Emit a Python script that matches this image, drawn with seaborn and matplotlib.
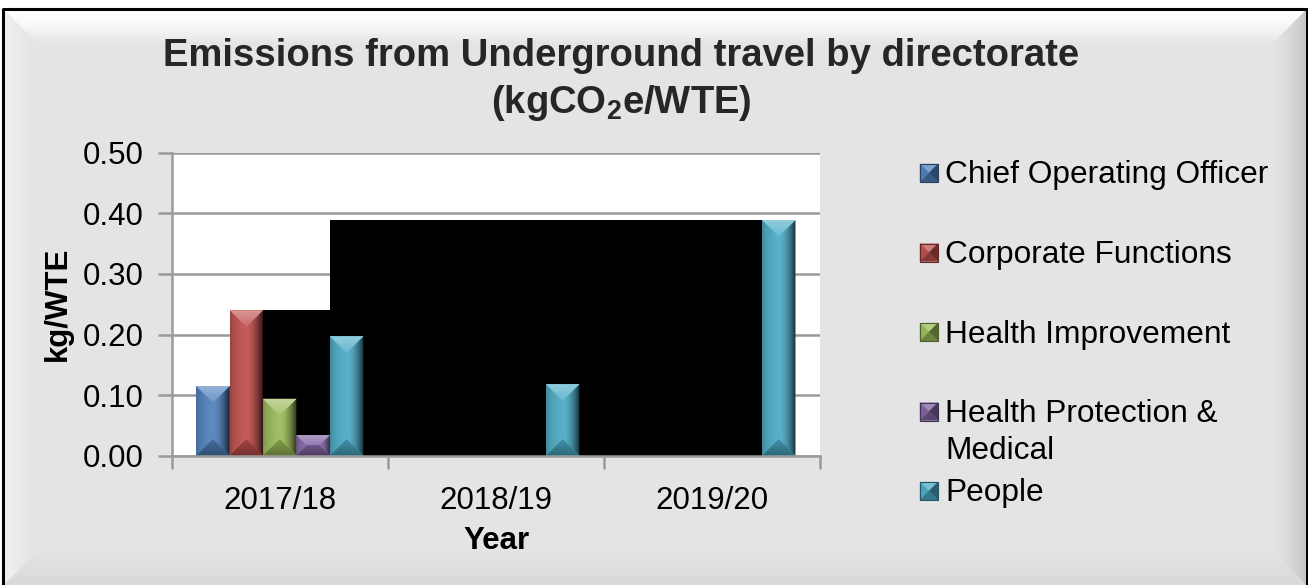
import numpy as np
import pandas as pd
import matplotlib
matplotlib.use("Agg")
import matplotlib.pyplot as plt
from matplotlib.patches import Polygon
from matplotlib.colors import to_rgb
from matplotlib.ticker import FixedLocator, FormatStrFormatter
import seaborn as sns

# ---- data -------------------------------------------------------------
years = ["2017/18", "2018/19", "2019/20"]
directorates = ["Chief Operating Officer", "Corporate Functions",
                "Health Improvement", "Health Protection & Medical", "People"]
legend_labels = ["Chief Operating Officer", "Corporate Functions",
                 "Health Improvement", "Health Protection &\nMedical", "People"]
chief_operating_officer = [0.115, 0.0, 0.0]
corporate_functions = [0.240, 0.0, 0.0]
health_improvement = [0.094, 0.0, 0.0]
health_protection_medical = [0.034, 0.0, 0.0]
people = [0.197, 0.118, 0.389]
y_ticks = [0.0, 0.1, 0.2, 0.3, 0.4, 0.5]
colors = ["#4F81BD", "#C0504D", "#9BBB59", "#8064A2", "#4BACC6"]

series = [chief_operating_officer, corporate_functions, health_improvement,
          health_protection_medical, people]
df = pd.DataFrame({
    "Year": [y for _ in directorates for y in years],
    "Directorate": [d for d in directorates for _ in years],
    "Value": [v for s in series for v in s],
})

# ---- style ------------------------------------------------------------
sns.set_theme(style="white")
plt.rcParams["font.family"] = ["Liberation Sans", "DejaVu Sans"]
plt.rcParams["mathtext.fontset"] = "custom"
plt.rcParams["mathtext.rm"] = "Liberation Sans:bold"
plt.rcParams["mathtext.bf"] = "Liberation Sans:bold"
plt.rcParams["mathtext.it"] = "Liberation Sans:bold"
plt.rcParams["mathtext.default"] = "bf"

W, H = 1308, 585
GRID = "#9a9a9a"
fig = plt.figure(figsize=(W / 100, H / 100), dpi=100, facecolor="white")


def shade(c, amount):
    """amount > 0 mixes toward white, < 0 toward black."""
    c = np.array(to_rgb(c))
    if amount >= 0:
        return tuple(c + (1 - c) * amount)
    return tuple(c * (1 + amount))


def gradient_fill(axis, pts, c0, c1, direction, extent, zorder, power=1.0):
    poly = Polygon(pts, closed=True, facecolor="none", edgecolor="none")
    axis.add_patch(poly)
    t = np.linspace(0, 1, 256) ** power
    a, b = np.array(to_rgb(c0)), np.array(to_rgb(c1))
    arr = a[None, :] * (1 - t[:, None]) + b[None, :] * t[:, None]
    img = arr[:, None, :] if direction == "v" else arr[None, :, :]
    im = axis.imshow(img, extent=extent, origin="upper", aspect="auto",
                     interpolation="bilinear", zorder=zorder)
    im.set_clip_path(poly)


# ---- bevelled chart-area background (pixel coordinates) -------------
bg = fig.add_axes([0, 0, 1, 1], zorder=-5)
bg.set_xlim(0, W)
bg.set_ylim(H, 0)
bg.axis("off")
L, T, R, B = 4, 10, 1306, H
bw = 34
base = "#e4e4e4"
bg.add_patch(Polygon([(L, T), (R, T), (R, B), (L, B)], closed=True,
                     facecolor=base, edgecolor="none", zorder=0))
gradient_fill(bg, [(L, T), (R, T), (R - bw, T + bw), (L + bw, T + bw)],
              "#ffffff", base, "v", (L, R, T + bw, T), 1, power=1.6)
gradient_fill(bg, [(L, T), (L + bw, T + bw), (L + bw, B - bw), (L, B)],
              "#f0f0f0", base, "h", (L, L + bw, B, T), 1)
gradient_fill(bg, [(R, T), (R - bw, T + bw), (R - bw, B - bw), (R, B)],
              base, "#c6c6c6", "h", (R - bw, R, B, T), 1, power=1.5)
gradient_fill(bg, [(L, B), (L + bw, B - bw), (R - bw, B - bw), (R, B)],
              base, "#d9d9d9", "v", (L, R, B, B - bw), 1)
bg.plot([L - 1, R + 1], [T - 1, T - 1], color="black", lw=2.2, zorder=3,
        solid_capstyle="butt")
bg.plot([L - 1, L - 1], [T - 1, B], color="black", lw=2.2, zorder=3)
bg.plot([R + 0.5, R + 0.5], [T - 1, B], color="black", lw=2.2, zorder=3)

# title
bg.text(621, 38, "Emissions from Underground travel by directorate\n(kgCO$_2$e/WTE)",
        ha="center", va="top", fontsize=27.5, fontweight="bold",
        linespacing=1.3, zorder=5)

# ---- plot area ---------------------------------------------------------
px_l, px_r, px_t, px_b = 171.7, 820.0, 152.7, 455.7
ax = fig.add_axes([px_l / W, 1 - px_b / H, (px_r - px_l) / W, (px_b - px_t) / H])
ax.set_facecolor("white")

sns.barplot(data=df, x="Year", y="Value", hue="Directorate",
            order=years, hue_order=directorates, palette=colors,
            saturation=1, width=0.773, linewidth=0, legend=False, ax=ax)

ax.set_xlim(-0.5, len(years) - 0.5)
ax.set_ylim(y_ticks[0], y_ticks[-1])

# pixel scale of the data axes
o = ax.transData.transform((0, 0))
sx = ax.transData.transform((1, 0))[0] - o[0]
sy = ax.transData.transform((0, 1))[1] - o[1]

# dark backdrop behind the bars
cf_bar = ax.containers[1][0]
ppl = ax.containers[4]
edges = [cf_bar.get_x() + cf_bar.get_width(), ppl[0].get_x(), ppl[2].get_x()]
levels = [corporate_functions[0], people[2], people[2]]
ax.fill_between(edges, levels, 0, step="post", color="black", lw=0, zorder=0.9)

# bevel faces on every bar
for cont, col in zip(ax.containers, colors):
    for p in cont:
        x0, w, h = p.get_x(), p.get_width(), p.get_height()
        if h <= 0:
            continue
        d = min(w * sx / 2, h * sy / 2)
        dx, dy = d / sx, d / sy
        x1 = x0 + w
        top = [(x0, h), (x1, h), (x1 - dx, h - dy), (x0 + dx, h - dy)]
        bot = [(x0, 0), (x1, 0), (x1 - dx, dy), (x0 + dx, dy)]
        left = [(x0, 0), (x0, h), (x0 + dx, h - dy), (x0 + dx, dy)]
        right = [(x1, 0), (x1, h), (x1 - dx, h - dy), (x1 - dx, dy)]
        gradient_fill(ax, left, shade(col, -0.3), shade(col, 0.08), "h",
                      (x0, x0 + dx, 0, h), 1.1, power=0.35)
        gradient_fill(ax, right, shade(col, 0.08), shade(col, -0.75), "h",
                      (x1 - dx, x1, 0, h), 1.1, power=1.8)
        gradient_fill(ax, top, shade(col, 0.4), shade(col, 0.15), "v",
                      (x0, x1, h - dy, h), 1.2)
        gradient_fill(ax, bot, shade(col, -0.15), shade(col, -0.4), "v",
                      (x0, x1, 0, dy), 1.2)

ax.set_xlim(-0.5, len(years) - 0.5)
ax.set_ylim(y_ticks[0], y_ticks[-1])

# grid, spines and ticks
ax.set_axisbelow(True)
ax.yaxis.grid(True, color=GRID, lw=1.8)
ax.xaxis.grid(False)
for s in ["top", "right"]:
    ax.spines[s].set_visible(False)
for s in ["left", "bottom"]:
    ax.spines[s].set_color(GRID)
    ax.spines[s].set_linewidth(1.8)
    ax.spines[s].set_zorder(2)

ax.set_yticks(y_ticks)
ax.yaxis.set_major_formatter(FormatStrFormatter("%.2f"))
ax.tick_params(axis="y", which="major", direction="out", length=10, width=1.8,
               color=GRID, pad=10, labelsize=22.5, labelcolor="black", left=True)
ax.set_xticks(range(len(years)))
ax.set_xticklabels(years)
ax.xaxis.set_minor_locator(FixedLocator(np.arange(-0.5, len(years), 1.0)))
ax.tick_params(axis="x", which="major", length=0, pad=22, labelsize=22.5,
               labelcolor="black")
ax.tick_params(axis="x", which="minor", direction="out", length=9, width=1.8,
               color=GRID, bottom=True)

ax.set_xlabel("Year", fontsize=22.5, fontweight="bold", color="black")
ax.set_ylabel("kg/WTE", fontsize=22.5, fontweight="bold", color="black")
ax.xaxis.set_label_coords((496 - px_l) / (px_r - px_l), (px_b - 526) / (px_b - px_t))
ax.yaxis.set_label_coords((73 - px_l) / (px_r - px_l), (px_b - 304) / (px_b - px_t))

# ---- legend (pixel coordinates on the background) -------------------
line_gap = 36.6
for i, (lab, col) in enumerate(zip(legend_labels, colors)):
    base_y = 183.5 + 79.5 * i
    mx0, mx1 = 920, 938
    my0, my1 = base_y - 19.5, base_y - 1.5
    cx, cy = (mx0 + mx1) / 2, (my0 + my1) / 2
    faces = [
        ([(mx0, my0), (mx1, my0), (cx, cy)], shade(col, 0.25)),
        ([(mx0, my0), (mx0, my1), (cx, cy)], shade(col, -0.05)),
        ([(mx1, my0), (mx1, my1), (cx, cy)], shade(col, -0.45)),
        ([(mx0, my1), (mx1, my1), (cx, cy)], shade(col, -0.3)),
    ]
    for pts, fc in faces:
        bg.add_patch(Polygon(pts, closed=True, facecolor=fc, edgecolor=fc,
                             lw=0.3, zorder=4))
    bg.add_patch(Polygon([(mx0, my0), (mx1, my0), (mx1, my1), (mx0, my1)],
                         closed=True, facecolor="none",
                         edgecolor=shade(col, -0.5), lw=0.8, zorder=4))
    for k, part in enumerate(lab.split("\n")):
        bg.text(945, base_y + k * line_gap, part, ha="left", va="baseline",
                fontsize=22.8, color="black", zorder=5)

fig.savefig("out.png", dpi=100, facecolor=fig.get_facecolor())
